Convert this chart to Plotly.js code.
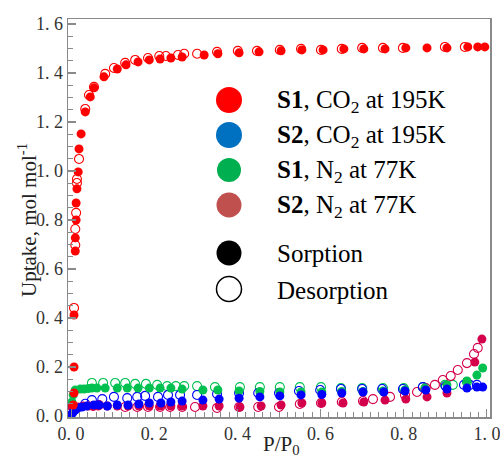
<!DOCTYPE html>
<html>
<head>
<meta charset="utf-8">
<script src="https://cdn.plot.ly/plotly-3.0.1.min.js"></script>
<style>html,body{margin:0;padding:0;background:#fff;}#chart{width:500px;height:456px;}</style>
</head>
<body>
<div id="chart"></div>
<script>
// ---- Data ----
// S1, CO2 at 195K
var s1co2SorpX = [0.005,0.007,0.007,0.007,0.010,0.010,0.012,0.012,0.014,0.017,0.019,0.024,0.034,0.046,0.055,0.079,0.111,0.132,0.161,0.188,0.214,0.240,0.267,0.320,0.353,0.404,0.452,0.505,0.555,0.606,0.656,0.704,0.755,0.805,0.856,0.904,0.954,0.978,0.995];
var s1co2SorpY = [0.045,0.094,0.200,0.412,0.673,0.727,0.800,0.869,0.927,0.996,1.090,1.151,1.241,1.302,1.339,1.384,1.416,1.433,1.445,1.453,1.457,1.461,1.465,1.473,1.478,1.482,1.486,1.490,1.494,1.494,1.498,1.498,1.498,1.502,1.502,1.502,1.506,1.506,1.506];
var s1co2DesX = [0.007,0.010,0.010,0.012,0.014,0.014,0.019,0.034,0.043,0.055,0.082,0.103,0.130,0.154,0.185,0.212,0.228,0.257,0.272,0.303,0.351,0.401,0.447,0.502,0.553,0.601,0.651,0.700,0.750,0.798,0.899,0.947];
var s1co2DesY = [0.441,0.698,0.763,0.829,0.951,0.967,1.049,1.253,1.310,1.343,1.396,1.420,1.441,1.453,1.461,1.469,1.469,1.473,1.478,1.478,1.486,1.490,1.490,1.494,1.498,1.494,1.498,1.502,1.502,1.502,1.506,1.506];
// S2, CO2 at 195K
var s2co2SorpX = [0.000,0.003,0.005,0.010,0.017,0.026,0.038,0.055,0.067,0.087,0.111,0.137,0.163,0.188,0.216,0.240,0.267,0.317,0.356,0.404,0.454,0.502,0.553,0.603,0.651,0.702,0.752,0.803,0.853,0.904,0.952,0.976,0.990];
var s2co2SorpY = [0.004,0.012,0.016,0.024,0.033,0.037,0.041,0.045,0.045,0.041,0.045,0.045,0.049,0.053,0.053,0.057,0.061,0.065,0.069,0.073,0.078,0.082,0.086,0.088,0.094,0.098,0.098,0.102,0.106,0.110,0.114,0.118,0.118];
var s2co2DesX = [0.034,0.050,0.075,0.103,0.135,0.159,0.178,0.209,0.233,0.262,0.303,0.351,0.404,0.450,0.500,0.548,0.599,0.649,0.700,0.748,0.798,0.846,0.901,0.945,0.959,0.976];
var s2co2DesY = [0.050,0.065,0.069,0.078,0.073,0.078,0.082,0.078,0.086,0.086,0.086,0.090,0.094,0.094,0.094,0.102,0.106,0.110,0.110,0.110,0.110,0.118,0.122,0.127,0.127,0.127];
// S1, N2 at 77K
var s1n2SorpX = [0.002,0.005,0.010,0.022,0.031,0.041,0.050,0.062,0.082,0.111,0.135,0.161,0.188,0.214,0.240,0.267,0.317,0.353,0.404,0.454,0.502,0.553,0.603,0.651,0.702,0.750,0.803,0.851,0.904,0.952,0.976,0.990];
var s1n2SorpY = [0.057,0.086,0.106,0.110,0.110,0.112,0.114,0.114,0.114,0.114,0.114,0.114,0.114,0.114,0.114,0.110,0.106,0.106,0.102,0.100,0.098,0.098,0.098,0.100,0.100,0.102,0.106,0.114,0.127,0.143,0.167,0.196];
var s1n2DesX = [0.050,0.077,0.106,0.130,0.154,0.180,0.207,0.231,0.252,0.272,0.303,0.346,0.406,0.454,0.502,0.550,0.601,0.649,0.700,0.750,0.800,0.846,0.899,0.918,0.952];
var s1n2DesY = [0.135,0.135,0.135,0.135,0.131,0.131,0.127,0.122,0.122,0.122,0.122,0.118,0.118,0.118,0.118,0.118,0.118,0.114,0.114,0.114,0.114,0.118,0.127,0.127,0.139];
// S2, N2 at 77K
var s2n2SorpX = [0.002,0.007,0.017,0.029,0.041,0.053,0.065,0.087,0.111,0.137,0.163,0.188,0.214,0.240,0.267,0.317,0.356,0.406,0.457,0.505,0.555,0.603,0.654,0.704,0.755,0.805,0.856,0.904,0.971,0.988];
var s2n2SorpY = [0.037,0.037,0.037,0.041,0.041,0.041,0.041,0.041,0.041,0.041,0.041,0.041,0.041,0.041,0.041,0.041,0.041,0.037,0.041,0.045,0.053,0.053,0.053,0.057,0.065,0.069,0.078,0.094,0.220,0.314];
var s2n2DesX = [0.053,0.067,0.130,0.159,0.185,0.214,0.238,0.267,0.298,0.351,0.404,0.450,0.500,0.550,0.601,0.651,0.702,0.726,0.767,0.803,0.832,0.853,0.875,0.894,0.913,0.930,0.952,0.969,0.978];
var s2n2DesY = [0.041,0.045,0.037,0.037,0.037,0.037,0.037,0.037,0.037,0.033,0.037,0.037,0.037,0.049,0.053,0.057,0.061,0.069,0.078,0.086,0.098,0.114,0.127,0.147,0.163,0.188,0.216,0.253,0.278];

// Axis ticks
var yTickVals = [0.0,0.2,0.4,0.6,0.8,1.0,1.2,1.4,1.6];
var yTickText = ["0. 0","0. 2","0. 4","0. 6","0. 8","1. 0","1. 2","1. 4","1. 6"];
var xTickVals = [0.0,0.2,0.4,0.6,0.8,1.0];
var xTickText = ["0. 0","0. 2","0. 4","0. 6","0. 8","1. 0"];
var yTitle = "Uptake, mol mol<sup>-1</sup>";
var xTitle = "P/P<sub>0</sub>";

// Legend entries
var legendLabels = ["<b>S1</b>, CO<sub>2</sub> at 195K","<b>S2</b>, CO<sub>2</sub> at 195K","<b>S1</b>, N<sub>2</sub> at 77K","<b>S2</b>, N<sub>2</sub> at 77K","Sorption","Desorption"];
var legendColors = ["#ff0000","#0070c0","#00b050","#c0504d","#000000","#ffffff"];

// ---- Styles ----
var RED = "#ff0000", BLUE = "#0000ff", GREEN = "#00c050", CRIMSON = "#d5004c";
var FONT = "Liberation Serif, Times New Roman, serif";

function openTrace(x, y, c) {
  return {x:x, y:y, type:"scatter", mode:"markers", showlegend:false, hoverinfo:"skip",
    marker:{symbol:"circle-open", size:9, color:c, line:{color:c, width:1.1}}};
}
function fillTrace(x, y, c) {
  return {x:x, y:y, type:"scatter", mode:"markers", showlegend:false, hoverinfo:"skip",
    marker:{symbol:"circle", size:9, color:c, line:{width:0}}};
}

var traces = [
  openTrace(s1n2DesX, s1n2DesY, GREEN),
  openTrace(s2n2DesX, s2n2DesY, CRIMSON),
  openTrace(s2co2DesX, s2co2DesY, BLUE),
  openTrace(s1co2DesX, s1co2DesY, RED),
  fillTrace(s1n2SorpX, s1n2SorpY, GREEN),
  fillTrace(s2n2SorpX, s2n2SorpY, CRIMSON),
  fillTrace(s2co2SorpX, s2co2SorpY, BLUE),
  fillTrace(s1co2SorpX, s1co2SorpY, RED)
];

// plot area in pixels
var L = 68, R = 490, T = 19, B = 417, W = 500, H = 456;
function px(x) { return (x - L) / (R - L); }
function py(y) { return (B - y) / (B - T); }

var legMarkerX = 229, legTextX = 275;
var legRowY = [100, 135, 170, 205, 253, 289];
var legRadius = [13, 13, 12, 12.5, 12.5, 12.5];

var shapes = [], annotations = [];
for (var i = 0; i < legendLabels.length; i++) {
  var isOpen = legendColors[i] === "#ffffff";
  shapes.push({type:"circle", xref:"paper", yref:"paper", xsizemode:"pixel", ysizemode:"pixel",
    xanchor:px(legMarkerX), yanchor:py(legRowY[i]),
    x0:-legRadius[i], x1:legRadius[i], y0:-legRadius[i], y1:legRadius[i],
    fillcolor:legendColors[i], line:{color:isOpen ? "#000000" : legendColors[i], width:isOpen ? 1.5 : 0}});
  annotations.push({xref:"paper", yref:"paper", x:px(legTextX), y:py(legRowY[i] + 1), xanchor:"left", yanchor:"middle",
    text:legendLabels[i], showarrow:false, font:{family:FONT, size:25, color:"#000"}});
}
// axis titles drawn as text annotations so they sit exactly where the reference puts them
annotations.push({xref:"paper", yref:"paper", x:px(27), y:py(220), xanchor:"center", yanchor:"middle",
  textangle:-90, text:yTitle, showarrow:false, font:{family:FONT, size:21, color:"#222"}});
annotations.push({xref:"paper", yref:"paper", x:px(281), y:py(430), xanchor:"center", yanchor:"top",
  text:xTitle, showarrow:false, font:{family:FONT, size:21, color:"#222"}});

var layout = {
  width:W, height:H,
  margin:{l:L, r:W - R, t:T, b:H - B, pad:0},
  paper_bgcolor:"#fff", plot_bgcolor:"#fff",
  showlegend:false,
  font:{family:FONT, color:"#333"},
  xaxis:{range:[-0.0075, 1.0075], tickmode:"array", tickvals:xTickVals, ticktext:xTickText,
    showgrid:false, zeroline:false, showline:true, mirror:true, linecolor:"#8a8a8a", linewidth:1.5,
    ticks:"inside", ticklen:8, tickwidth:1.2, tickcolor:"#8a8a8a", ticklabeloverflow:"allow",
    minor:{tickmode:"linear", tick0:0, dtick:0.02, ticks:"inside", ticklen:5, tickwidth:1, tickcolor:"#8a8a8a"},
    tickfont:{family:FONT, size:18, color:"#333"}},
  yaxis:{range:[-0.004, 1.62], tickmode:"array", tickvals:yTickVals, ticktext:yTickText,
    showgrid:false, zeroline:false, showline:true, mirror:true, linecolor:"#8a8a8a", linewidth:1.5,
    ticks:"inside", ticklen:8, tickwidth:1.2, tickcolor:"#8a8a8a", ticklabeloverflow:"allow",
    minor:{tickmode:"linear", tick0:0, dtick:0.05, ticks:"inside", ticklen:5, tickwidth:1, tickcolor:"#8a8a8a"},
    tickfont:{family:FONT, size:18, color:"#333"}},
  shapes:shapes,
  annotations:annotations
};

Plotly.newPlot("chart", traces, layout, {displayModeBar:false, staticPlot:true});
</script>
</body>
</html>
